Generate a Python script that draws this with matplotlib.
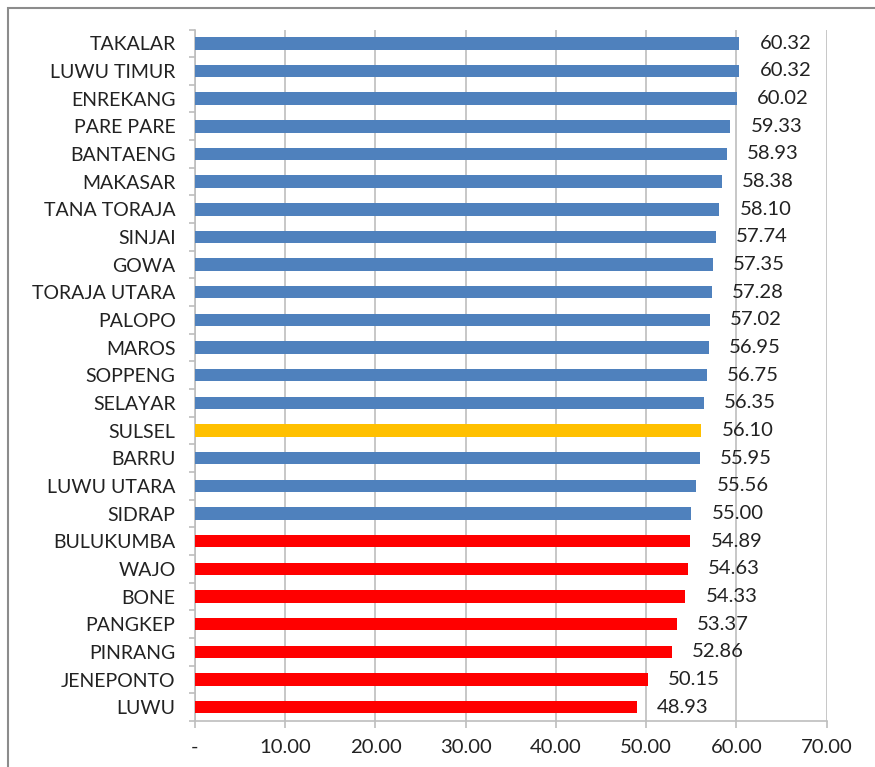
import matplotlib
matplotlib.use("Agg")
import matplotlib.pyplot as plt
from matplotlib.patches import Rectangle
import numpy as np

regions = ["TAKALAR", "LUWU TIMUR", "ENREKANG", "PARE PARE", "BANTAENG", "MAKASAR",
           "TANA TORAJA", "SINJAI", "GOWA", "TORAJA UTARA", "PALOPO", "MAROS",
           "SOPPENG", "SELAYAR", "SULSEL", "BARRU", "LUWU UTARA", "SIDRAP",
           "BULUKUMBA", "WAJO", "BONE", "PANGKEP", "PINRANG", "JENEPONTO", "LUWU"]
values = [60.32, 60.32, 60.02, 59.33, 58.93, 58.38, 58.10, 57.74, 57.35, 57.28,
          57.02, 56.95, 56.75, 56.35, 56.10, 55.95, 55.56, 55.00, 54.89, 54.63,
          54.33, 53.37, 52.86, 50.15, 48.93]
groups = ["above"] * 14 + ["province"] + ["above"] * 3 + ["below"] * 7
group_colors = {"above": "#4F81BD", "province": "#FFC000", "below": "#FF0000"}
xticks = [0, 10, 20, 30, 40, 50, 60, 70]
xtick_labels = ["-", "10.00", "20.00", "30.00", "40.00", "50.00", "60.00", "70.00"]

plt.rcParams['font.family'] = ['Lato', 'DejaVu Sans']
text_color = "#222222"
grid_color = "#BEBEBE"
fs = 14
fs_val = 14.6

W, H = 875, 767
fig = plt.figure(figsize=(W / 100, H / 100), dpi=100)
ax = fig.add_axes([195 / W, (H - 721) / H, (826.7 - 195) / W, (721 - 29.5) / H])

n = len(regions)
ypos = np.arange(n)
colors = [group_colors[g] for g in groups]
ax.barh(ypos, values, height=0.45, color=colors, zorder=3)
ax.set_ylim(n - 0.5, -0.5)
ax.set_xlim(0, 70)

for y, v in zip(ypos, values):
    ax.annotate(f"{v:.2f}", xy=(v, y), xytext=(14.5, 0), textcoords="offset points",
                va="center", ha="left", fontsize=fs_val, color=text_color, zorder=4)

# y axis: labels at centres, tick marks at category boundaries
ax.set_yticks(ypos)
ax.set_yticklabels(regions, fontsize=fs, color=text_color)
ax.tick_params(axis="y", which="major", length=0, pad=14)
ax.set_yticks(np.arange(-0.5, n, 1.0), minor=True)
ax.tick_params(axis="y", which="minor", length=4, width=1.2, color=grid_color, direction="out")

ax.set_xticks(xticks)
ax.set_xticklabels(xtick_labels, fontsize=fs_val, color=text_color)
ax.tick_params(axis="x", length=5, width=1.2, color=grid_color, direction="out", pad=8)

ax.grid(axis="x", color=grid_color, linewidth=1.2, zorder=0)
for s in ["top", "right"]:
    ax.spines[s].set_visible(False)
for s in ["left", "bottom"]:
    ax.spines[s].set_color(grid_color)
    ax.spines[s].set_linewidth(1.2)

# chart-area frame (left and top visible)
fig.patches.append(Rectangle((8 / W, -0.1), 1.2, (H - 8) / H + 0.1, transform=fig.transFigure,
                             fill=False, edgecolor="#8C8C8C", linewidth=1.5))

fig.savefig("out.png", dpi=100, facecolor="white")
